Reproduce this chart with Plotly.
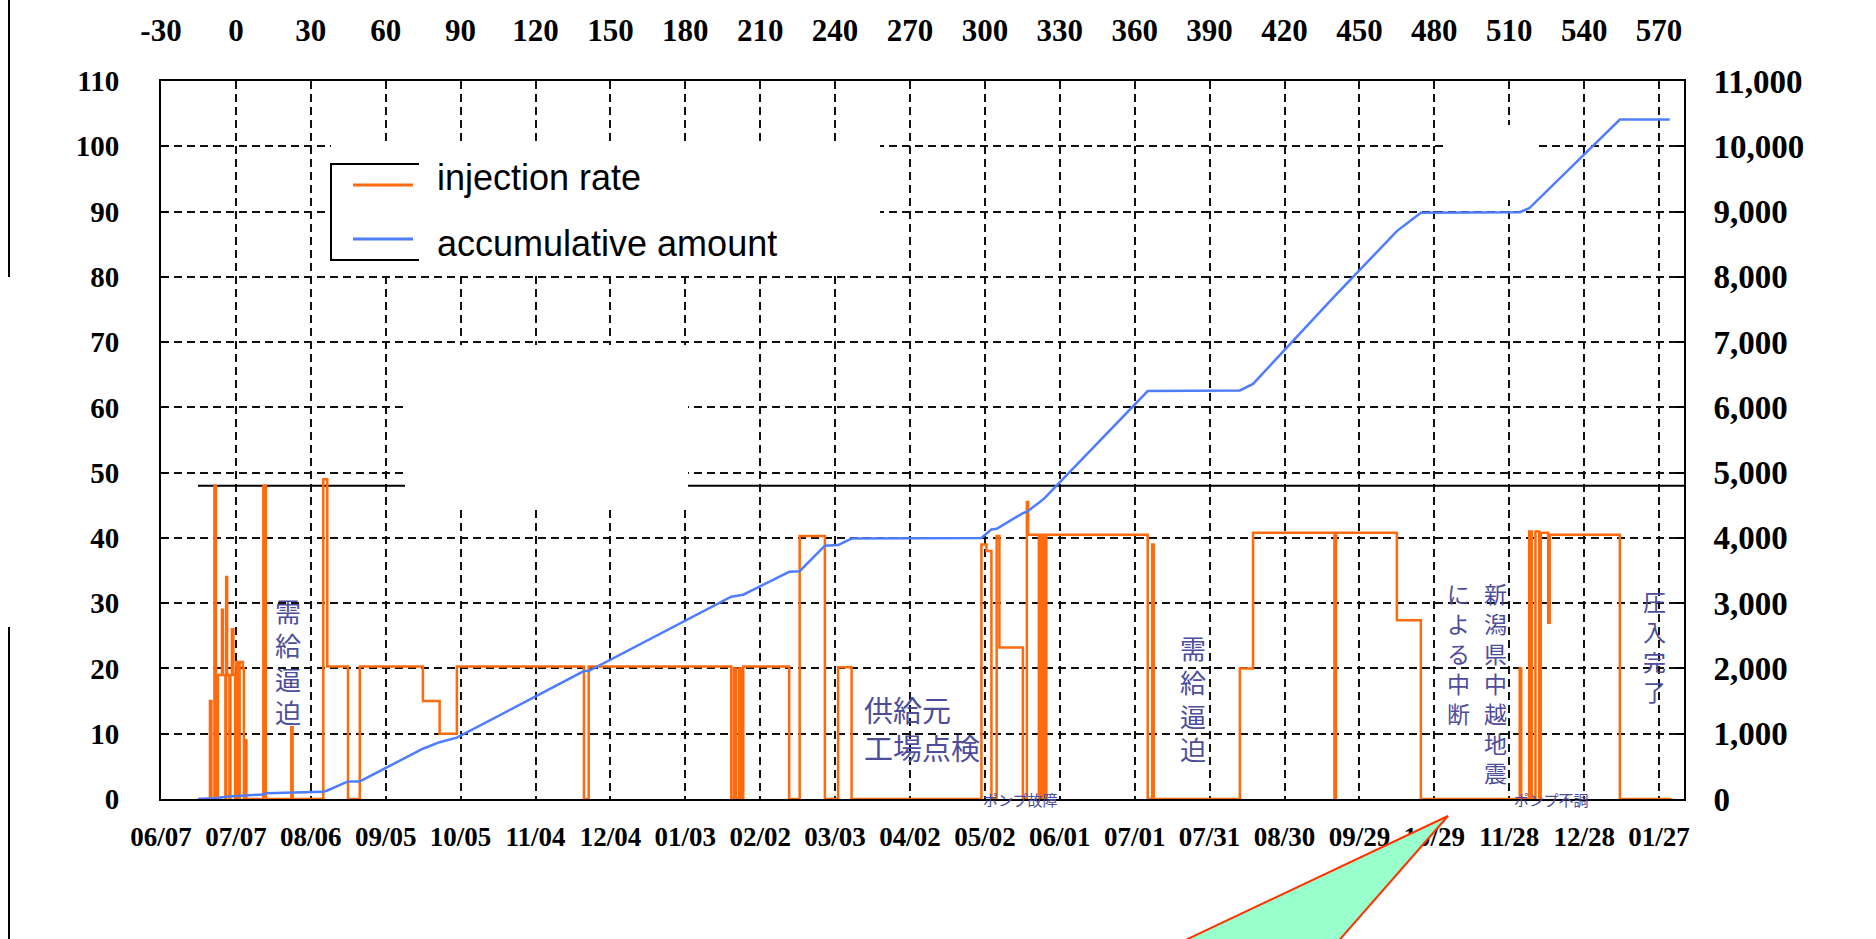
import plotly.graph_objects as go

# Day 0 = start of injection (07/07); axis runs one month either side
DAY_TICKS = [-30, 0, 30, 60, 90, 120, 150, 180, 210, 240, 270, 300, 330,
             360, 390, 420, 450, 480, 510, 540, 570]
DATE_LABELS = ["06/07", "07/07", "08/06", "09/05", "10/05", "11/04", "12/04",
               "01/03", "02/02", "03/03", "04/02", "05/02", "06/01", "07/01",
               "07/31", "08/30", "09/29", "10/29", "11/28", "12/28", "01/27"]
DAY_LABELS = ["-30", "0", "30", "60", "90", "120", "150", "180", "210", "240",
              "270", "300", "330", "360", "390", "420", "450", "480", "510",
              "540", "570"]
RATE_TICKS = [0, 10, 20, 30, 40, 50, 60, 70, 80, 90, 100, 110]
AMOUNT_TICKS = [0, 1000, 2000, 3000, 4000, 5000, 6000, 7000, 8000, 9000,
                10000, 11000]

# injection rate (t/day), held until the next day value
RATE_DAY = [-15.2, -10.4, -9.8, -8.6, -8.0, -7.2, -5.6, -5.2, -4.2, -3.9,
            -3.5, -2.6, -2.2, -1.6, -1.0, -0.3, 0.2, 1.0, 1.5, 2.8, 3.2, 3.4,
            4.2, 11.0, 12.0, 22.2, 22.7, 35.0, 36.6, 44.9, 49.6, 74.9, 81.6,
            88.5, 139.4, 141.3, 198.4, 199.5, 200.3, 201.5, 202.3, 203.2,
            221.6, 225.8, 235.9, 241.2, 246.6, 298.6, 300.6, 302.6, 304.7,
            305.8, 315.2, 316.8, 317.3, 321.6, 322.6, 323.6, 324.6, 365.2,
            367.0, 367.6, 402.1, 407.4, 440.0, 440.6, 465.0, 474.6, 514.2,
            514.8, 518.0, 519.0, 520.5, 522.0, 522.6, 525.6, 526.2, 554.3,
            575.0]
RATE_VAL = [0, 15, 0, 48, 0, 19, 29, 19, 0, 34,
            19, 0, 19, 26, 19, 0, 21, 0, 21, 20, 0, 9,
            0, 48, 0, 11, 0, 49, 20.3, 0, 20.3, 15, 10,
            20.3, 0, 20.3, 0, 20, 0, 20, 0, 20.3,
            0, 40.3, 0, 20.2, 0, 39, 38, 0, 40.3,
            23.2, 0, 45.5, 40.5, 0, 40.5, 0, 40.5, 0,
            39, 0, 20, 40.8, 0, 40.8, 27.4, 0, 20,
            0, 41, 0, 41, 0, 40.8, 27, 40.5, 0,
            0]

# accumulated injected amount (t)
CUM_DAY = [-15.2, -8.5, -3.0, 4.0, 11.0, 12.0, 22.0, 35.0, 36.6, 44.9, 49.6,
           74.9, 81.6, 88.5, 139.4, 141.3, 198.4, 203.2, 221.6, 225.8, 235.9,
           241.2, 246.6, 298.6, 302.6, 304.7, 315.2, 316.8, 321.6, 323.6,
           365.2, 402.1, 407.4, 440.0, 465.0, 474.6, 514.2, 518.0, 554.3,
           574.3]
CUM_VAL = [0, 10, 40, 60, 70, 90, 100, 110, 130, 270, 270,
           770, 870, 940, 1960, 1960, 3100, 3130, 3480, 3490, 3880,
           3890, 3990, 4000, 4130, 4140, 4380, 4400, 4540, 4600,
           6250, 6260, 6360, 7700, 8700, 8980, 8990, 9050, 10410,
           10410]

SERIES_NAMES = ["injection rate", "accumulative amount"]

W, H = 1876, 939
L, R, T, B = 161, 1684, 81, 799

def px_x(px):
    return (px - L) / (R - L)

def px_y(py):
    return (B - py) / (B - T)

ORANGE = "#ff6a0e"
BLUE = "#4f7dff"
NOTE = "#4d4d9c"
TICK_FONT = dict(family="Liberation Serif", color="black", weight="bold")

fig = go.Figure()
fig.add_trace(go.Scatter(
    x=RATE_DAY, y=RATE_VAL, name=SERIES_NAMES[0], mode="lines",
    line=dict(color=ORANGE, width=2.5, shape="hv"),
    xaxis="x", yaxis="y", showlegend=False))
fig.add_trace(go.Scatter(
    x=CUM_DAY, y=CUM_VAL, name=SERIES_NAMES[1], mode="lines",
    line=dict(color=BLUE, width=2.5),
    xaxis="x2", yaxis="y2", showlegend=False))

x_range = [-30, 580]
grid = dict(showgrid=True, gridcolor="#111111", gridwidth=2, griddash="8px,5px")

fig.update_layout(
    width=W, height=H,
    margin=dict(l=L, r=W - R, t=T, b=H - B, pad=0),
    paper_bgcolor="white", plot_bgcolor="white",
    xaxis=dict(range=x_range, tickmode="array", tickvals=DAY_TICKS,
               ticktext=DATE_LABELS, tickfont=dict(size=27, **TICK_FONT),
               ticklabelstandoff=13, showline=True, linecolor="black",
               linewidth=2, zeroline=False, ticks="", layer="below traces",
               **grid),
    xaxis2=dict(range=x_range, overlaying="x", side="top", tickmode="array",
                tickvals=DAY_TICKS, ticktext=DAY_LABELS,
                tickfont=dict(size=31, **TICK_FONT), ticklabelstandoff=26,
                showline=True, linecolor="black", linewidth=2,
                showgrid=False, zeroline=False, ticks=""),
    yaxis=dict(range=[0, 110], tickmode="array", tickvals=RATE_TICKS,
               tickfont=dict(size=29, **TICK_FONT), ticklabelstandoff=34,
               showline=True, linecolor="black", linewidth=2,
               zeroline=False, ticks="inside", ticklen=7, tickcolor="black",
               tickwidth=2, layer="below traces", **grid),
    yaxis2=dict(range=[0, 11000], overlaying="y", side="right",
                tickmode="array", tickvals=AMOUNT_TICKS, tickformat=",d",
                tickfont=dict(size=33, **TICK_FONT), ticklabelstandoff=21,
                showline=True, linecolor="black", linewidth=2,
                showgrid=False, zeroline=False, ticks="inside", ticklen=8,
                tickcolor="black", tickwidth=2),
    showlegend=False,
)

shapes = []
# reference line at 48 t/day
shapes.append(dict(type="line", xref="x", yref="y", x0=-15.2, x1=580,
                   y0=48, y1=48, line=dict(color="black", width=2),
                   layer="between"))
# white panels over the grid
for x0, y0, x1, y1 in [(331, 142, 880, 272), (405, 345, 688, 508),
                       (1448, 125, 1536, 200)]:
    shapes.append(dict(type="rect", xref="paper", yref="paper",
                       x0=px_x(x0), x1=px_x(x1), y0=px_y(y1), y1=px_y(y0),
                       fillcolor="white", line=dict(width=0),
                       layer="above"))
# legend frame (left, top and bottom edges) and line samples
shapes.append(dict(
    type="path", xref="paper", yref="paper", layer="above",
    path="M {a},{b} L {c},{b} L {c},{d} L {a},{d}".format(
        a=px_x(419), b=px_y(164), c=px_x(331), d=px_y(260)),
    line=dict(color="black", width=2)))
LEGEND_ROWS = [(185, 177, ORANGE), (239, 243, BLUE)]
for (line_y, text_y, color) in LEGEND_ROWS:
    shapes.append(dict(type="line", xref="paper", yref="paper",
                       x0=px_x(353), x1=px_x(413),
                       y0=px_y(line_y), y1=px_y(line_y),
                       line=dict(color=color, width=3), layer="above"))
# page rule on the left edge
for y0, y1 in [(0, 277), (627, 939)]:
    shapes.append(dict(type="line", xref="paper", yref="paper",
                       x0=px_x(9), x1=px_x(9), y0=px_y(y0), y1=px_y(y1),
                       line=dict(color="black", width=2)))
# callout pointer
tri = [(1448, 816), (1175, 945), (1335, 945)]
shapes.append(dict(
    type="path", xref="paper", yref="paper", layer="above",
    path="M {} Z".format(" L ".join(f"{px_x(a)},{px_y(b)}" for a, b in tri)),
    fillcolor="#99ffcc", line=dict(color="#ff3300", width=2)))
fig.update_layout(shapes=shapes)

JP = "Noto Sans CJK JP"

def vtext(s):
    return "<br>".join(s)

notes = [
    dict(x=20.8, y=21.2, text=vtext("需給逼迫"), size=26),
    dict(x=383.3, y=15.5, text=vtext("需給逼迫"), size=26),
    dict(x=504.4, y=17.8, text=vtext("新潟県中越地震"), size=23),
    dict(x=489.6, y=22.4, text=vtext("による中断"), size=23),
    dict(x=568.3, y=23.5, text=vtext("圧入完了"), size=23),
]
annotations = []
for n in notes:
    annotations.append(dict(x=n["x"], y=n["y"], xref="x", yref="y",
                            text=n["text"], showarrow=False,
                            font=dict(family=JP, size=n["size"], color=NOTE)))
annotations.append(dict(x=250.7, y=10.9, xref="x", yref="y",
                        text="供給元<br>工場点検", align="left",
                        xanchor="left", showarrow=False,
                        font=dict(family=JP, size=29, color=NOTE)))
for xd, txt in [(314.4, "ポンプ故障"), (527.0, "ポンプ不調")]:
    annotations.append(dict(x=xd, y=px_y(812), xref="x", yref="paper",
                            text=txt, showarrow=False,
                            font=dict(family=JP, size=15, color=NOTE)))
# legend labels
for name, (line_y, text_y, color) in zip(SERIES_NAMES, LEGEND_ROWS):
    annotations.append(dict(x=px_x(435), y=px_y(text_y), xref="paper",
                            yref="paper", text=name, showarrow=False,
                            xanchor="left", yanchor="middle",
                            font=dict(family="Liberation Sans", size=36,
                                      color="black")))
fig.update_layout(annotations=annotations)

fig.write_html("out.html")
